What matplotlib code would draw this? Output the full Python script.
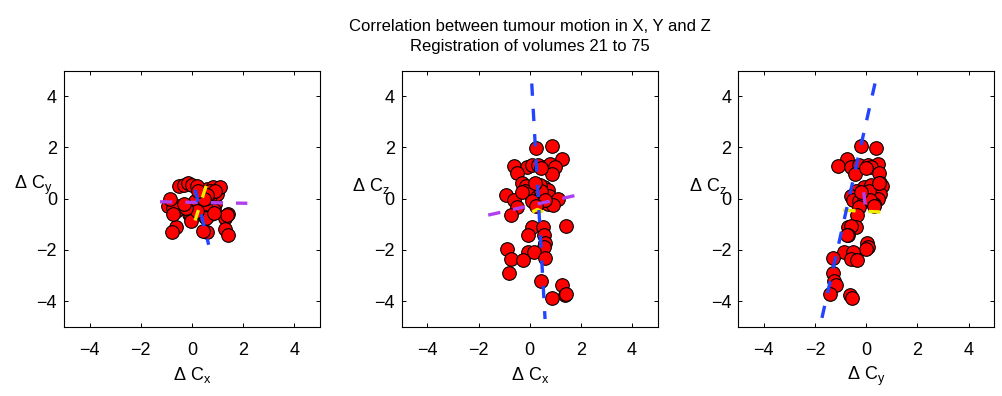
import matplotlib
matplotlib.use("Agg")
import matplotlib.pyplot as plt

plt.rcParams["font.family"] = ["Liberation Sans", "DejaVu Sans"]
plt.rcParams["mathtext.fontset"] = "custom"
plt.rcParams["mathtext.rm"] = "Liberation Sans"
plt.rcParams["mathtext.it"] = "Liberation Sans"

# -------------------------------
# tumour displacement per volume (21..75)
# -------------------------------
dx = [0.88, 0.23, 1.27, -0.61, -0.12, 0.08, 0.33, 0.60, 0.80, 0.99,
      -0.51, 0.87, -0.30, -0.15, 0.55, 0.70, -0.20, 0.00, -0.92, 0.75,
      0.30, 1.10, -0.63, 0.50, 0.10, 0.70, -0.51, 0.90, -0.74, 0.08,
      0.52, 1.42, -0.05, 0.55, 0.60, 0.55, -0.87, -0.05, 0.18, -0.74,
      0.60, -0.25, -0.80, 0.43, 1.28, 1.37, 1.40, 0.86, 0.40, 0.45,
      0.60, 0.20, -0.30, 0.45, 0.25]
dy = [-0.22, 0.38, -0.77, -1.09, -0.60, -0.27, 0.05, 0.38, 0.45, 0.20,
      0.50, -0.45, 0.55, 0.60, -0.10, 0.10, -0.40, 0.55, -0.30, -0.60,
      0.00, 0.45, -0.50, -0.30, -0.10, 0.30, -0.30, 0.30, -0.38, -0.40,
      -0.70, -0.60, -0.70, -0.75, 0.02, 0.05, 0.00, -0.87, -0.50, -0.60,
      -1.31, -0.35, -1.30, -1.26, -1.20, -0.65, -1.40, -0.55, 0.20, 0.10,
      0.15, 0.50, -0.20, 0.00, 0.30]
dz = [2.07, 1.97, 1.55, 1.28, 1.25, 1.30, 1.30, 1.25, 1.35, 1.22,
      0.99, 0.96, 0.60, 0.50, 0.45, 0.35, 0.30, 0.20, 0.14, 0.10,
      0.05, 0.00, -0.05, -0.10, -0.10, -0.20, -0.31, -0.25, -0.64, -1.10,
      -1.10, -1.05, -1.42, -1.40, -1.72, -1.90, -1.95, -2.10, -2.10, -2.37,
      -2.32, -2.40, -2.90, -3.20, -3.37, -3.76, -3.73, -3.89, 0.55, 0.30,
      -0.05, 0.60, 0.25, 1.20, -0.30]

# principal axes as projected in each panel: [x0, x1], [y0, y1]
axis1_xy = ([0.12, 0.65], [0.35, -1.80])
axis2_xy = ([-1.25, 2.16], [-0.12, -0.18])
axis3_xy = ([0.55, 0.12], [0.50, -0.85])

axis1_xz = ([0.08, 0.60], [4.50, -4.70])
axis2_xz = ([-1.62, 2.16], [-0.64, 0.21])
axis3_xz = ([0.10, 0.30, 0.52], [-0.52, -0.42, -0.52])

axis1_yz = ([0.34, -1.90], [4.50, -5.40])
axis2_yz = ([-0.10, 0.00], [0.25, -0.65])
axis3_yz = ([-0.90, 0.55], [-0.45, -0.52])

panels = [
    (dx, dy, r"$\Delta$ C$_\mathrm{x}$", r"$\Delta$ C$_\mathrm{y}$", axis1_xy, axis2_xy, axis3_xy),
    (dx, dz, r"$\Delta$ C$_\mathrm{x}$", r"$\Delta$ C$_\mathrm{z}$", axis1_xz, axis2_xz, axis3_xz),
    (dy, dz, r"$\Delta$ C$_\mathrm{y}$", r"$\Delta$ C$_\mathrm{z}$", axis1_yz, axis2_yz, axis3_yz),
]

lefts = [0.0639, 0.4009, 0.7368]
dash = (0, (3.7, 3.9))

fig = plt.figure(figsize=(10.02, 3.96), dpi=100)

for left, (u, v, xl, yl, a1, a2, a3) in zip(lefts, panels):
    ax = fig.add_axes([left, 0.175, 0.2555, 0.6465])
    ax.plot(u, v, "o", color="red", markeredgecolor="black",
            markersize=9.8, markeredgewidth=0.8, zorder=2)
    ax.plot(a3[0], a3[1], color="#f2ee00", lw=2.4, ls=dash, zorder=3)
    ax.plot(a2[0], a2[1], color="#b040ee", lw=2.4, ls=dash, zorder=3)
    ax.plot(a1[0], a1[1], color="#2244ff", lw=2.4, ls=dash, zorder=4)

    ax.set_xlim(-5, 5)
    ax.set_ylim(-5, 5)
    ax.set_xticks([-4, -2, 0, 2, 4])
    ax.set_yticks([-4, -2, 0, 2, 4])
    ax.tick_params(direction="in", length=3, width=0.7, labelsize=13,
                   top=True, right=True)
    ax.tick_params(axis="x", pad=11)
    ax.tick_params(axis="y", pad=5)
    for s in ax.spines.values():
        s.set_linewidth(0.8)

    ax.set_xlabel(xl, fontsize=13, labelpad=4)
    ax.set_ylabel(yl, fontsize=13, rotation=0, ha="right", va="center")
    ax.yaxis.set_label_coords(-0.045, 0.55)

    if left == lefts[1]:
        ax.set_title("Correlation between tumour motion in X, Y and Z\n"
                     "Registration of volumes 21 to 75", fontsize=12, pad=14,
                     linespacing=1.45)

fig.savefig("out.png", dpi=100)
